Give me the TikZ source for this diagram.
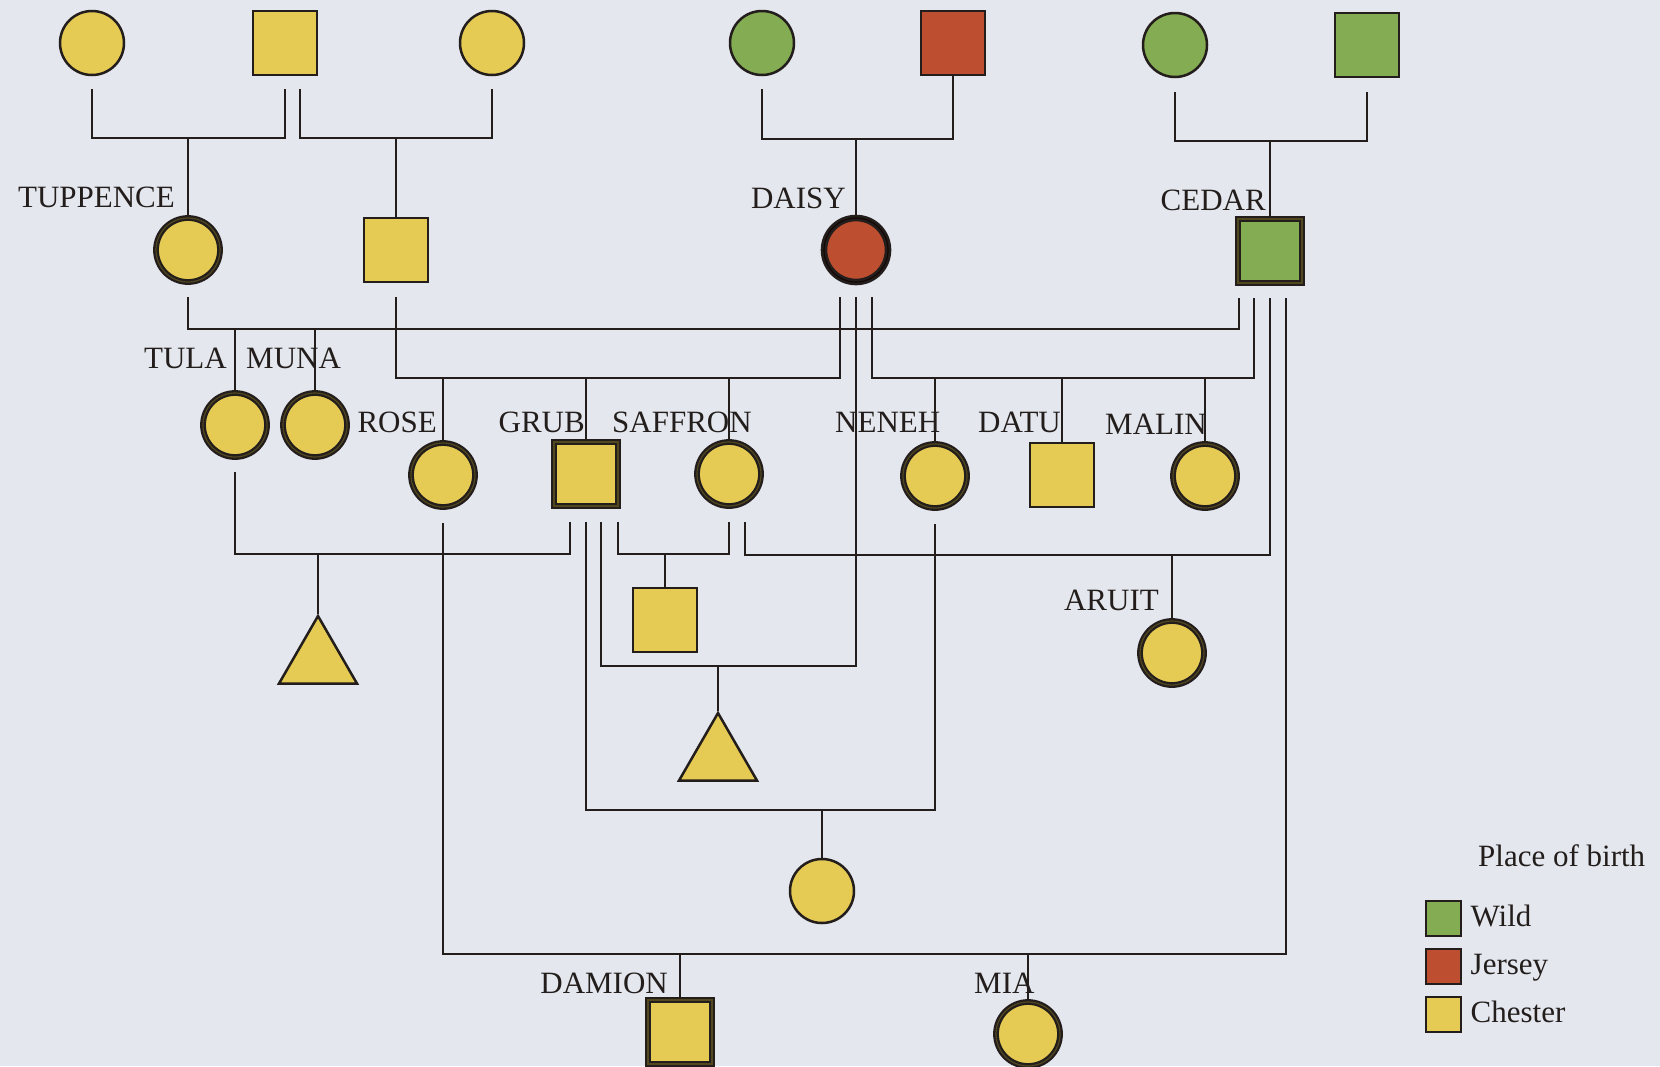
\documentclass[tikz,border=0pt]{standalone}
\usepackage{fontspec}
\setmainfont{Liberation Serif}
\usetikzlibrary{shapes.geometric, positioning}

\definecolor{paper}{RGB}{228,231,238}
\definecolor{ink}{RGB}{35,30,28}
\definecolor{ring}{RGB}{82,72,32}
\definecolor{chester}{RGB}{229,203,84}
\definecolor{wild}{RGB}{131,172,83}
\definecolor{jersey}{RGB}{190,78,48}

\begin{document}
\begin{tikzpicture}[
    x=1pt, y=-1pt,
    person/.style={draw=ink, line width=2.5pt, inner sep=0pt, minimum size=64pt},
    female/.style={person, circle},
    male/.style={person, rectangle},
    unsexed/.style={person, regular polygon, regular polygon sides=3, minimum size=90pt},
    marked/.style={line width=2.3pt, double=#1, double distance=1.2pt},
    marked/.default=ring,
    lbl/.style={inner sep=0pt, text=ink, font=\fontsize{31}{36}\selectfont},
    swatch/.style={draw=ink, line width=2pt, inner sep=0pt, minimum size=35pt, node distance=48pt},
    line/.style={draw=ink, line width=2pt}
]

\path [fill=paper, use as bounding box] (0,0) rectangle (1660,1066);

% grandparents
\node [female, fill=chester] (gA) at (92,43) {};
\node [male, fill=chester] (gB) at (285,43) {};
\node [female, fill=chester] (gC) at (492,43) {};
\node [female, fill=wild] (gD) at (762,43) {};
\node [male, fill=jersey] (gE) at (953,43) {};
\node [female, fill=wild] (gF) at (1175,45) {};
\node [male, fill=wild] (gG) at (1367,45) {};

% founders
\node [female, marked, fill=chester] (tup) at (188,250) {};
\node [male, fill=chester] (halfbro) at (396,250) {};
\node [female, marked=black!90!jersey, line width=2.7pt, fill=jersey] (daisy) at (856,250) {};
\node [male, marked, fill=wild] (cedar) at (1270,251) {};

% offspring
\node [female, marked, fill=chester] (tula) at (235,425) {};
\node [female, marked, fill=chester] (muna) at (315,425) {};
\node [female, marked, fill=chester] (rose) at (443,475) {};
\node [male, marked, fill=chester] (grub) at (586,474) {};
\node [female, marked, fill=chester] (saffron) at (729,474) {};
\node [female, marked, fill=chester] (neneh) at (935,476) {};
\node [male, fill=chester] (datu) at (1062,475) {};
\node [female, marked, fill=chester] (malin) at (1205,476) {};

\node [unsexed, fill=chester] (tri1) at (318,661) {};
\node [male, fill=chester] (pup) at (665,620) {};
\node [female, marked, fill=chester] (aruit) at (1172,653) {};
\node [unsexed, fill=chester] (tri2) at (718,758) {};
\node [female, fill=chester] (dau) at (822,891) {};
\node [male, marked, fill=chester] (damion) at (680,1032) {};
\node [female, marked, fill=chester] (mia) at (1028,1034) {};

% names
\node [lbl, anchor=base east] (tupL) at (175,207) {TUPPENCE};
\node [lbl, anchor=base east] (daisyL) at (846,208) {DAISY};
\node [lbl, anchor=base east] (cedarL) at (1266,210) {CEDAR};
\node [lbl, anchor=base east] (tulaL) at (227,368) {TULA};
\node [lbl, anchor=base west] (munaL) at (246,368) {MUNA};
\node [lbl, anchor=base east] (roseL) at (437,432) {ROSE};
\node [lbl, anchor=base east] (grubL) at (585,432) {GRUB};
\node [lbl, anchor=base west] (saffronL) at (612,432) {SAFFRON};
\node [lbl, anchor=base west] (nenehL) at (835,432) {NENEH};
\node [lbl, anchor=base east] (datuL) at (1061,432) {DATU};
\node [lbl, anchor=base east] (malinL) at (1207,434) {MALIN};
\node [lbl, anchor=base east] (aruitL) at (1159,610) {ARUIT};
\node [lbl, anchor=base east] (damionL) at (668,993) {DAMION};
\node [lbl, anchor=base west] (miaL) at (974,993) {MIA};

% pairings
\path [line] ([yshift=-13pt]gA.south) -- ++(0,49) coordinate (mAB) -| ([yshift=-13pt]gB.south);
\path [line] ([xshift=15pt,yshift=-13pt]gB.south) -- ++(0,49) coordinate (mBC) -| ([yshift=-13pt]gC.south);
\path [line] ([yshift=-13pt]gD.south) -- ++(0,50) coordinate (mDE) -| (gE.south);
\path [line] ([yshift=-14pt]gF.south) -- ++(0,49) coordinate (mFG) -| ([yshift=-14pt]gG.south);

\path [line] ([yshift=-14pt]tup.south) -- ++(0,32) coordinate (mTC) -| ([xshift=-31pt,yshift=-14pt]cedar.south);
\path [line] ([yshift=-14pt]halfbro.south) -- ++(0,81) coordinate (mHD) -| ([xshift=-16pt,yshift=-14pt]daisy.south);
\path [line] ([xshift=16pt,yshift=-14pt]daisy.south) -- ++(0,81) coordinate (mDC) -| ([xshift=-16pt,yshift=-14pt]cedar.south);
\path [line] ([yshift=-14pt]daisy.south) -- ++(0,369) coordinate (mDG) -| ([xshift=15pt,yshift=-15pt]grub.south);
\path [line] ([yshift=-14pt]cedar.south) -- ++(0,257) coordinate (mCS) -| ([xshift=16pt,yshift=-15pt]saffron.south);
\path [line] ([xshift=16pt,yshift=-14pt]cedar.south) -- ++(0,656) coordinate (mCR) -| ([yshift=-15pt]rose.south);

\path [line] ([yshift=-14pt]tula.south) -- ++(0,82) coordinate (mTG) -| ([xshift=-16pt,yshift=-15pt]grub.south);
\path [line] ([xshift=32pt,yshift=-15pt]grub.south) -- ++(0,32) coordinate (mGS) -| ([yshift=-15pt]saffron.south);
\path [line] ([yshift=-15pt]grub.south) -- ++(0,288) coordinate (mGN) -| ([yshift=-15pt]neneh.south);

% descent
\path [line] (mAB -| tup.north) -- (tup.north);
\path [line] (mBC -| halfbro.north) -- (halfbro.north);
\path [line] (mDE -| daisy.north) -- (daisy.north);
\path [line] (mFG -| cedar.north) -- (cedar.north);
\path [line] (mTC -| tula.north) -- (tula.north);
\path [line] (mTC -| muna.north) -- (muna.north);
\path [line] (mHD -| rose.north) -- (rose.north);
\path [line] (mHD -| grub.north) -- (grub.north);
\path [line] (mHD -| saffron.north) -- (saffron.north);
\path [line] (mDC -| neneh.north) -- (neneh.north);
\path [line] (mDC -| datu.north) -- (datu.north);
\path [line] (mDC -| malin.north) -- (malin.north);
\path [line] (mTG -| tri1.north) -- (tri1.north);
\path [line] (mGS -| pup.north) -- (pup.north);
\path [line] (mCS -| aruit.north) -- (aruit.north);
\path [line] (mDG -| tri2.north) -- (tri2.north);
\path [line] (mGN -| dau.north) -- (dau.north);
\path [line] (mCR -| damion.north) -- (damion.north);
\path [line] (mCR -| mia.north) -- (mia.north);

% legend
\node [lbl, anchor=base west] (keyT) at (1478,866) {Place of birth};
\node [swatch, fill=wild] (kWild) at (1443,918) {};
\node [swatch, fill=jersey, below of=kWild] (kJersey) {};
\node [swatch, fill=chester, below of=kJersey] (kChester) {};
\node [lbl, anchor=base west] (kWildL) at ([xshift=9pt,yshift=-8pt]kWild.east) {Wild};
\node [lbl, anchor=base west] (kJerseyL) at ([xshift=9pt,yshift=-8pt]kJersey.east) {Jersey};
\node [lbl, anchor=base west] (kChesterL) at ([xshift=9pt,yshift=-8pt]kChester.east) {Chester};

\end{tikzpicture}
\end{document}
